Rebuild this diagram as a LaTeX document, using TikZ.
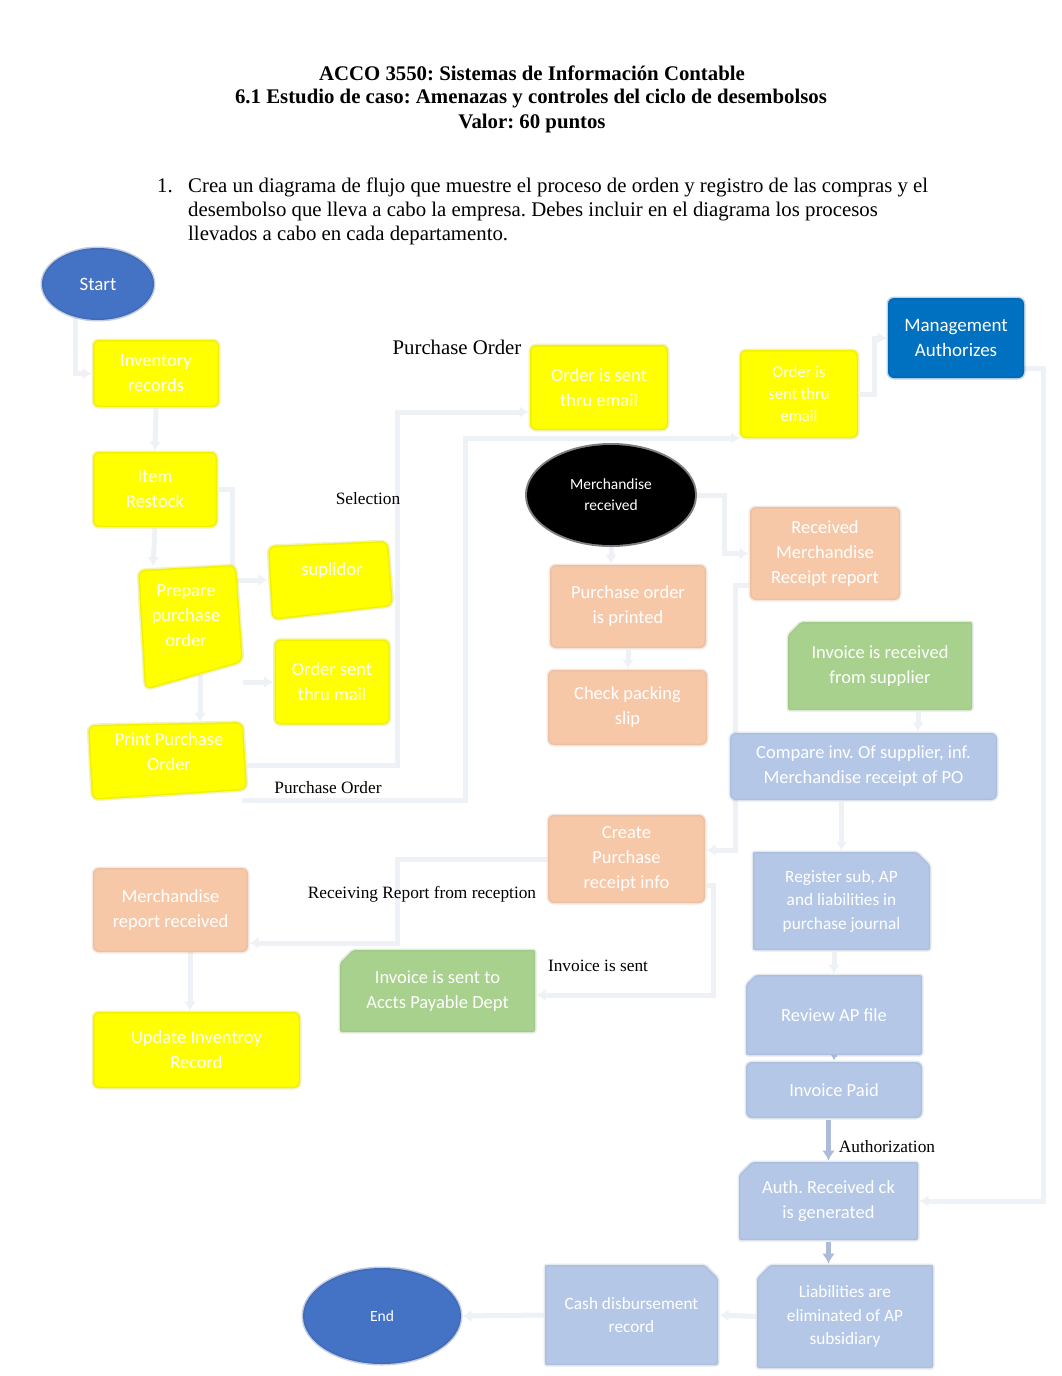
\documentclass[tikz,border=0pt]{standalone}
\usepackage{fontspec}
\setmainfont{Liberation Serif}
\newfontfamily\boxfont{Carlito}
\usetikzlibrary{arrows.meta,shapes.geometric,shapes.misc,calc}
\frenchspacing

\pgfdeclarelayer{paper}
\pgfdeclarelayer{lines}
\pgfsetlayers{paper,lines,main}

\definecolor{ylw}{HTML}{FFFF00}
\definecolor{stblue}{HTML}{4472C4}
\definecolor{mgblue}{HTML}{0070C0}
\definecolor{peach}{HTML}{F6C8A8}
\definecolor{grn}{HTML}{A9D18E}
\definecolor{ltblue}{HTML}{B4C7E7}
\definecolor{lnc}{HTML}{EEF1F6}
\definecolor{lnd}{HTML}{8FA5CC}

\tikzset{
  x=1pt, y=-1pt,
  sz/.style 2 args={minimum width=#1pt, minimum height=#2pt},
  btxt/.style={font=\boxfont\fontsize{18.5}{25}\selectfont, text=white, align=center, inner sep=0pt},
  box/.style={rectangle, rounded corners=6pt, btxt, line width=3pt, draw opacity=0.25},
  ybox/.style={box, fill=ylw, draw=ylw!80!black},
  pbox/.style={box, fill=peach, draw=peach!85!black},
  gbox/.style={box, fill=grn, draw=grn!85!black},
  lbox/.style={box, fill=ltblue, draw=ltblue!85!black},
  snipnw/.style={chamfered rectangle, chamfered rectangle corners=north west, chamfered rectangle xsep=10pt, rounded corners=2pt},
  snipne/.style={chamfered rectangle, chamfered rectangle corners=north east, chamfered rectangle xsep=10pt, rounded corners=2pt},
  oval/.style={ellipse, btxt, fill=stblue, draw=stblue!80!black, line width=3pt, draw opacity=0.3},
  poly/.style={fill=ylw, draw=ylw!80!black, line width=3pt, draw opacity=0.25, rounded corners=7pt},
  ghost/.style={rectangle, inner sep=0pt},
  lbl/.style={font=\fontsize{17.3}{20}\selectfont, inner sep=0pt},
  conn/.style={draw=lnc, line width=5pt, -{Latex[length=9pt,width=12pt]}},
  connd/.style={draw=lnd!75!white, line width=5pt, -{Latex[length=10pt,width=13pt]}},
}

\begin{document}
\begin{tikzpicture}
\begin{pgfonlayer}{paper}
\fill[white] (0,0) rectangle (1062,1376);
\end{pgfonlayer}
\useasboundingbox (0,0) rectangle (1062,1376);

% ---------- header ----------
\node[anchor=base, font=\fontsize{20.8}{24}\selectfont\bfseries] (h1) at (532,80) {ACCO 3550: Sistemas de Información Contable};
\node[anchor=base, font=\fontsize{20.8}{24}\selectfont\bfseries] (h2) at (531,103) {6.1 Estudio de caso: Amenazas y controles del ciclo de desembolsos};
\node[anchor=base, font=\fontsize{20.8}{24}\selectfont\bfseries] (h3) at (532,128) {Valor: 60 puntos};
\node[anchor=base west, inner sep=0pt, font=\fontsize{20.8}{24}\selectfont] (num) at (157,192) {1.};
\node[anchor=base west, inner sep=0pt, font=\fontsize{20.8}{24}\selectfont] (q1) at (188,192) {Crea un diagrama de flujo que muestre el proceso de orden y registro de las compras y el};
\node[anchor=base west, inner sep=0pt, font=\fontsize{20.8}{24}\selectfont] (q2) at (188,216) {desembolso que lleva a cabo la empresa. Debes incluir en el diagrama los procesos};
\node[anchor=base west, inner sep=0pt, font=\fontsize{20.8}{24}\selectfont] (q3) at (188,240) {llevados a cabo en cada departamento.};

% ---------- free connector ends ----------
\coordinate (a1) at (75,318);
\coordinate (pe) at (247,765);
\coordinate (k1) at (397,765);
\coordinate (k2) at (397,412);
\coordinate (pb) at (242,800);
\coordinate (k3) at (465,800);
\coordinate (k4) at (465,438);
\coordinate (k5) at (740,438);
\coordinate (me) at (1022,368);
\coordinate (k6) at (1043,368);
\coordinate (k7) at (1043,1201);
\coordinate (k8) at (735,585);
\coordinate (k9) at (735,850);
\coordinate (k10) at (397,859);
\coordinate (k11) at (397,943);
\coordinate (k12) at (713,885);
\coordinate (k13) at (713,995);
\coordinate (t1) at (190,952);
\coordinate (pr1) at (153,566);
\coordinate (pr2) at (200,675);

% ---------- nodes ----------
\node[oval, sz={112}{72}] (start) at (98,284) {\fontsize{18.9}{22}\selectfont Start};
\node[ybox, sz={126}{67}] (inv) at (156,373.5) {Inventory\\records};
\node[ybox, sz={124}{75}] (item) at (155,489.5) {Item\\Restock};

\node[ghost, sz={105}{125}] (prep) at (190,627) {};
\fill[poly] (138,570) -- (236,565) -- (243,662) -- (145,690) -- cycle;
\node[btxt] (prept) at (186,616) {Prepare\\purchase\\order};

\node[ghost, sz={125}{79}] (supl) at (330,580) {};
\fill[poly] (268,546) -- (388,541) -- (393,606) -- (272,620) -- cycle;
\node[btxt] (suplt) at (332,571) {suplidor};

\node[ybox, sz={115}{85}] (omail) at (332,682) {Order sent\\thru mail};

\node[ghost, sz={159}{78}] (print) at (167.5,761) {};
\fill[poly] (88,725) -- (243,722) -- (247,790) -- (92,800) -- cycle;
\node[btxt] (printt) at (169,751.5) {Print Purchase\\Order};

\node[ybox, sz={138}{85}] (oe1) at (599,387.5) {Order is sent\\thru email};
\node[ybox, sz={118}{88}, font=\boxfont\fontsize{16.5}{22}\selectfont] (oe2) at (799,394) {Order is\\sent thru\\email};
\node[box, fill=mgblue, draw=mgblue!80!black, sz={136}{80}, font=\boxfont\fontsize{19}{25}\selectfont] (mgmt) at (956,338) {Management\\Authorizes};

\node[ellipse, fill=black, draw=black, line width=4pt, draw opacity=0.5, sz={168}{100}, btxt, font=\boxfont\fontsize{15.5}{21}\selectfont] (merch) at (611,495) {Merchandise\\received};

\node[pbox, sz={150}{93}] (recv) at (825,553.5) {Received\\Merchandise\\Receipt report};
\node[pbox, sz={156}{83}] (popr) at (628,606.5) {Purchase order\\is printed};
\node[pbox, sz={159}{75}] (chk) at (627.5,707.5) {Check packing\\slip};
\node[gbox, snipnw, sz={184}{88}] (invr) at (880,666) {Invoice is received\\from supplier};
\node[lbox, sz={267}{67}] (cmp) at (863.5,766.5) {Compare inv. Of supplier, inf.\\Merchandise receipt of PO};
\node[pbox, sz={157}{88}] (crt) at (626.5,859) {Create\\Purchase\\receipt info};
\node[pbox, sz={155}{84}] (mrr) at (170.5,910) {Merchandise\\report received};
\node[gbox, snipnw, sz={195}{82}] (inap) at (437.5,991) {Invoice is sent to\\Accts Payable Dept};
\node[ybox, sz={207}{76}] (upd) at (196.5,1050) {Update Inventroy\\Record};

\node[lbox, snipne, sz={177}{98}, font=\boxfont\fontsize{17.3}{23.5}\selectfont] (reg) at (841.5,901) {Register sub, AP\\and liabilities in\\purchase journal};
\node[lbox, snipnw, sz={176}{80}] (rev) at (834,1015) {Review AP file};
\node[lbox, sz={176}{56}] (paid) at (834,1090) {Invoice Paid};
\node[lbox, snipnw, sz={179}{78}] (auth) at (828.5,1201) {Auth. Received ck\\is generated};
\node[lbox, snipnw, sz={176}{103}, font=\boxfont\fontsize{17.3}{23.5}\selectfont] (liab) at (845,1316.5) {Liabilities are\\eliminated of AP\\subsidiary};
\node[lbox, snipne, sz={173}{100}, font=\boxfont\fontsize{17.3}{23}\selectfont] (cash) at (631.5,1315) {Cash disbursement\\record};
\node[oval, sz={158}{96}, font=\boxfont\fontsize{15.6}{20}\selectfont] (end) at (382,1316) {End};

% ---------- labels ----------
\node[font=\fontsize{20.8}{24}\selectfont, inner sep=0pt] (lpo1) at (457,347) {Purchase Order};
\node[lbl] (lsel) at (368,499) {Selection};
\node[lbl] (lpo2) at (328,788) {Purchase Order};
\node[lbl] (lrr) at (422,894) {Receiving Report from reception};
\node[lbl] (lis) at (598,966) {Invoice is sent};
\node[lbl] (lau) at (887,1147) {Authorization};

% ---------- connectors (on the layer below the nodes) ----------
\begin{pgfonlayer}{lines}
\draw[conn] (a1) |- (inv.west);
\draw[conn] (inv.south) -- (item.north);
\draw[conn] (item.south) -- (pr1);
\draw[conn] (item.east) -- ++(14,0) |- (supl.west);
\draw[conn] (pr2) -- (pr2 |- print.north);
\draw[conn] (prep.east |- omail.west) -- (omail.west);
\draw[conn] (pe) -- (k1) -- (k2) -- (k2 -| oe1.west);
\draw[conn] (pb) -- (k3) -- (k4) -- (k5);
\draw[conn] (oe2.east) -- ++(15,0) |- (mgmt.west);
\draw[conn] (me) -- (k6) -- (k7) -- (auth.east);
\draw[conn] (merch.east) -- ++(27,0) |- (recv.west);
\draw[conn] (merch.south) -- (merch.south |- popr.north);
\draw[conn] (popr.south) -- (popr.south |- chk.north);
\draw[conn] (k8 -| recv.west) -- (k8) -- (k9) -- (k9 -| crt.east);
\draw[conn] ($(invr.south)+(38,0)$) -- ($(cmp.north)+(54.5,0)$);
\draw[conn] (cmp.south -| reg.north) -- (reg.north);
\draw[conn] (crt.west |- k10) -- (k10) -- (k11) -- (k11 -| mrr.east);
\draw[conn] (k12 -| crt.east) -- (k12) -- (k13) -- (k13 -| inap.east);
\draw[conn] (t1) -- (t1 |- upd.north);
\draw[conn] (rev.north |- reg.south) -- (rev.north);
\draw[connd] (rev.south) -- (paid.north);
\draw[connd] (auth.north |- paid.south) -- (auth.north);
\draw[connd] (auth.south) -- (auth.south |- liab.north);
\draw[conn] (liab.west) -- (cash.east);
\draw[conn] (cash.west) -- (end.east);
\end{pgfonlayer}
\end{tikzpicture}
\end{document}
